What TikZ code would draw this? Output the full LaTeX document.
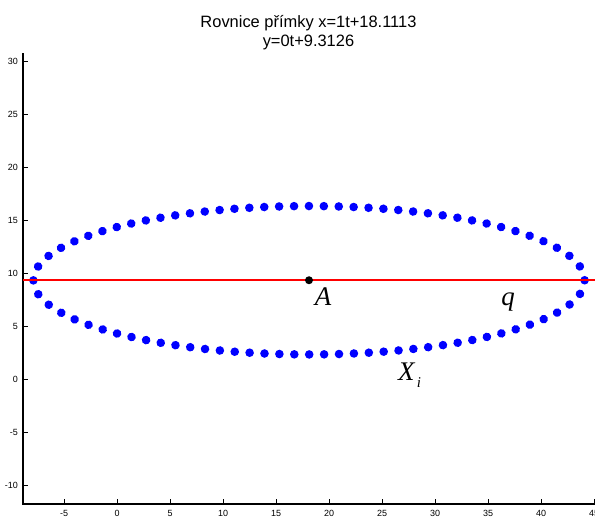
\documentclass[tikz,border=0pt]{standalone}
\usepackage{fontspec}
\setmainfont{Liberation Serif}
\setsansfont{Liberation Sans}
\usepackage{tikz}
\usetikzlibrary{decorations.markings}
\definecolor{cdot}{RGB}{0,0,255}
\definecolor{cline}{RGB}{255,0,0}
\newcommand{\Xlab}{X\kern2.5bp\raisebox{-7bp}{\fontsize{15}{15}\selectfont i}}

\begin{document}
\begin{tikzpicture}[x=10.6bp, y=10.6bp,
    ticklab/.style={font=\sffamily\fontsize{9}{10}\selectfont, inner sep=0pt},
    ptlab/.style={font=\itshape\fontsize{27}{30}\selectfont, inner sep=0pt, anchor=base},
    titlelab/.style={font=\sffamily\fontsize{16.5}{18}\selectfont, inner sep=0pt, anchor=base}]
  \useasboundingbox (-11.04,-13.11) rectangle (45.09,35.75);
  % axes
  \coordinate (ytop) at (-8.87,30.75);
  \coordinate (orig) at (-8.87,-11.8);
  \coordinate (xend) at (45.3,-11.8);
  \draw[line width=1.2bp] (ytop) -- (orig) -- (xend);
  \foreach \x in {-5,0,...,45} {
    \draw[line width=0.8bp] (\x,-11.8) -- ++(0,5bp);
    \node[ticklab, anchor=north] at ([yshift=-6bp]\x,-11.8) {\x};
  }
  \foreach \y in {-10,-5,...,30} {
    \draw[line width=0.8bp] (-8.87,\y) -- ++(5bp,0);
    \node[ticklab, anchor=east] at ([xshift=-5bp]-8.87,\y) {\y};
  }
  % points X_i
  \coordinate (A) at (18.1113,9.3126);
  \path[decoration={markings,
      mark=between positions 0 and 0.99 step 0.0125 with {\fill[cdot] (0,0) circle (4.3bp);}},
    decorate] (A) ellipse [x radius=26, y radius=7];
  % line q
  \coordinate (qL) at (-8.87,9.3126);
  \coordinate (qR) at (45.3,9.3126);
  \draw[cline, line width=2bp] (qL) -- (qR);
  \fill (A) circle (4bp);
  % labels
  \node[ptlab] (labA) at (19.43,6.95) {A};
  \node[ptlab] (labq) at (36.9,6.95) {q};
  \node[ptlab] (labX) at (27.6,-0.19) {\Xlab};
  \node[titlelab] (title1) at (18.06,33.2) {Rovnice přímky x=1t+18.1113};
  \node[titlelab] (title2) at (18.06,31.4) {y=0t+9.3126};
\end{tikzpicture}
\end{document}
